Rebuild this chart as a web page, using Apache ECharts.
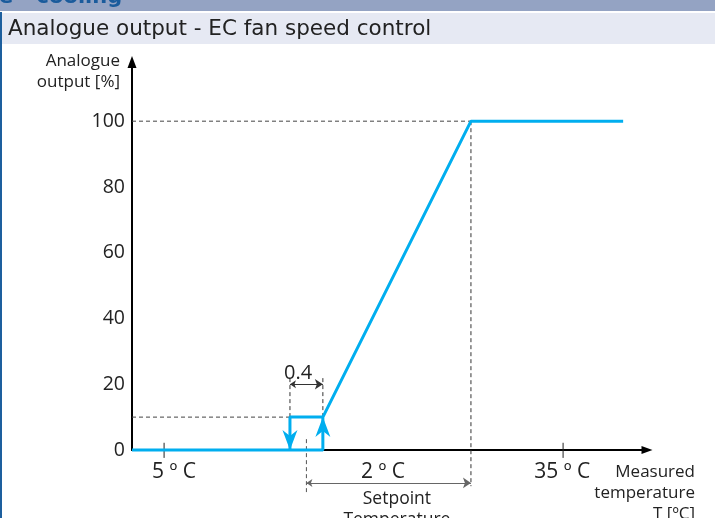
<!DOCTYPE html>
<html><head><meta charset="utf-8">
<script src="https://cdn.jsdelivr.net/npm/echarts@6/dist/echarts.min.js"></script>
<style>html,body{margin:0;padding:0;background:#fff;overflow:hidden;width:715px;height:518px}#c{position:absolute;left:0;top:0;width:715px;height:518px}#lb{position:absolute;left:0;top:12px;width:2px;height:506px;background:#1d5f9e}</style>
</head><body><div id="c"></div><div id="lb"></div>
<script>
// ---- data (x: °C relative to setpoint, y: analogue output %) ----
const yTickValues = [0, 20, 40, 60, 80, 100];
const xDomain = [-2.12, 4.14];
const yDomain = [0, 118];
const outputCurve = [[-2.12, 0], [0.2, 0], [0.2, 10], [2.0, 100], [3.85, 100]];
const hysteresisPath = [[-0.2, 0], [-0.2, 10], [0.2, 10]];
const arrowDownTip = [-0.2, 0];
const arrowUpTip = [0.2, 10];
const guide100 = [[-2.12, 100], [2.0, 100]];
const guide10 = [[-2.12, 10], [-0.2, 10]];
const guideEnd = [[2.0, 100], [2.0, -11]];
const guideSetpoint = [[0, 3.3], [0, -12.8]];
const guideHystLeft = [[-0.2, 10], [-0.2, 22]];
const guideHystRight = [[0.2, 10], [0.2, 22]];
const dimHyst = [[-0.2, 20], [0.2, 20]];
const dimSpan = [[0, -10], [2.0, -10]];
const tick5 = [[-1.73, 2.2], [-1.73, -2.4]];
const tick35 = [[3.12, 2.2], [3.12, -2.4]];
const xLabelTexts = ['5 º C', '2 º C', '35 º C'];
const xLabelAt = [[-1.61, -6.7], [0.93, -6.7], [3.11, -6.7]];
const hystText = '0.4';
const hystTextAt = [-0.1, 23.2];
const setpointLines = ['Setpoint', 'Temperature'];
const setpointAt = [1.1, -14.9];
const xTitleLines = ['Measured', 'temperature', 'T [ºC]'];
const xTitleAt = [4.72, -6.7];
const yTitleLines = ['Analogue', 'output [%]'];
const yTitleAt = [-0.15, 118.5];
const headerTitle = 'Analogue output - EC fan speed control';
const sectionTitle = 'e - cooling';

const BLUE = '#00aeef';
const FONT = "'Open Sans', 'Noto Sans', sans-serif";

const chart = echarts.init(document.getElementById('c'), null, {renderer: 'canvas'});

function dashed(data, color) {
  return {type: 'line', data: data, symbol: 'none', clip: false, silent: true, z: 1,
    lineStyle: {color: color || '#444', width: 1, type: [4, 3]}};
}
function dim(data, color) {
  return {type: 'lines', coordinateSystem: 'cartesian2d', clip: false, silent: true, z: 2,
    symbol: ['arrow', 'arrow'], symbolSize: [6, 8],
    lineStyle: {color: color, width: 1, opacity: 1},
    data: [{coords: data}]};
}
function solidTick(data) {
  return {type: 'line', data: data, symbol: 'none', clip: false, silent: true, z: 3,
    lineStyle: {color: '#222', width: 1}};
}

chart.setOption({
  animation: false,
  grid: {left: 132, right: 68, top: 62, bottom: 68},
  xAxis: {
    type: 'value', min: xDomain[0], max: xDomain[1],
    axisLine: {show: true, onZero: false, symbol: ['none', 'triangle'], symbolSize: [8, 11],
      lineStyle: {color: '#000', width: 2}},
    axisTick: {show: false}, axisLabel: {show: false}, splitLine: {show: false}
  },
  yAxis: {
    type: 'value', min: yDomain[0], max: yDomain[1], interval: 20,
    axisLine: {show: true, onZero: false, symbol: ['none', 'triangle'], symbolSize: [9, 12],
      lineStyle: {color: '#000', width: 2}},
    axisTick: {show: false}, splitLine: {show: false},
    axisLabel: {margin: 7, color: '#222', fontSize: 19.5, fontFamily: FONT,
      formatter: v => (yTickValues.indexOf(v) >= 0 ? String(v) : '')}
  },
  series: [
    dashed(guide100), dashed(guide10), dashed(guideEnd, '#333'), dashed(guideSetpoint, '#555'),
    dashed(guideHystLeft, '#333'), dashed(guideHystRight, '#333'),
    dim(dimHyst, '#333'), dim(dimSpan, '#666'),
    solidTick(tick5), solidTick(tick35),
    {type: 'line', data: outputCurve, symbol: 'none', clip: false, z: 5,
      lineStyle: {color: BLUE, width: 3}},
    {type: 'line', data: hysteresisPath, symbol: 'none', clip: false, z: 5,
      lineStyle: {color: BLUE, width: 3}}
  ]
});

function px(p) { return chart.convertToPixel({gridIndex: 0}, p); }

const g = [];
// header
g.push({type: 'rect', shape: {x: 0, y: 0, width: 715, height: 11}, style: {fill: '#94a3c3'}, z: 10});
g.push({type: 'text', x: -1, y: -13, style: {text: sectionTitle, fill: '#1a5b9c',
  font: "bold 21px 'DejaVu Sans'", textVerticalAlign: 'top'}, z: 11});
g.push({type: 'rect', shape: {x: 0, y: 11, width: 715, height: 2}, style: {fill: '#ffffff'}, z: 12});
g.push({type: 'rect', shape: {x: 0, y: 13, width: 715, height: 31}, style: {fill: '#e6e9f3'}, z: 12});
g.push({type: 'text', x: 8, y: 29, style: {text: headerTitle, fill: '#222',
  font: "21.5px 'DejaVu Sans'", textVerticalAlign: 'middle'}, z: 13});

// hysteresis arrowheads (tip at the data point)
function arrowHead(tip, dir) {
  const p = px(tip);
  const L = 20, W = 7.5, N = 14;
  return {type: 'polygon', z: 14, shape: {points: [
    [p[0], p[1]], [p[0] + W, p[1] - dir * L], [p[0], p[1] - dir * N], [p[0] - W, p[1] - dir * L]
  ]}, style: {fill: BLUE}};
}
g.push(arrowHead(arrowDownTip, 1));
g.push(arrowHead(arrowUpTip, -1));

// axis titles
const yt = px(yTitleAt);
g.push({type: 'text', x: 120, y: yt[1] - 10, style: {text: yTitleLines.join('\n'), fill: '#222',
  font: '17px ' + FONT, textAlign: 'right', textVerticalAlign: 'top', lineHeight: 21}, z: 13});
const xt = px(xTitleAt);
g.push({type: 'text', x: 695, y: xt[1] - 10, style: {text: xTitleLines.join('\n'), fill: '#222',
  font: '17px ' + FONT, textAlign: 'right', textVerticalAlign: 'top', lineHeight: 21}, z: 13});

// x labels
xLabelTexts.forEach((t, i) => {
  const p = px(xLabelAt[i]);
  g.push({type: 'text', x: p[0], y: p[1], style: {text: t, fill: '#222', font: '21px ' + FONT,
    textAlign: 'center', textVerticalAlign: 'middle'}, z: 13});
});
const ht = px(hystTextAt);
g.push({type: 'text', x: ht[0], y: ht[1], style: {text: hystText, fill: '#222', font: '20px ' + FONT,
  textAlign: 'center', textVerticalAlign: 'middle'}, z: 13});
const sp = px(setpointAt);
g.push({type: 'text', x: sp[0], y: sp[1] - 10, style: {text: setpointLines.join('\n'), fill: '#222',
  font: '17.5px ' + FONT, textAlign: 'center', textVerticalAlign: 'top', lineHeight: 21}, z: 13});

chart.setOption({graphic: g});
</script>
</body></html>
